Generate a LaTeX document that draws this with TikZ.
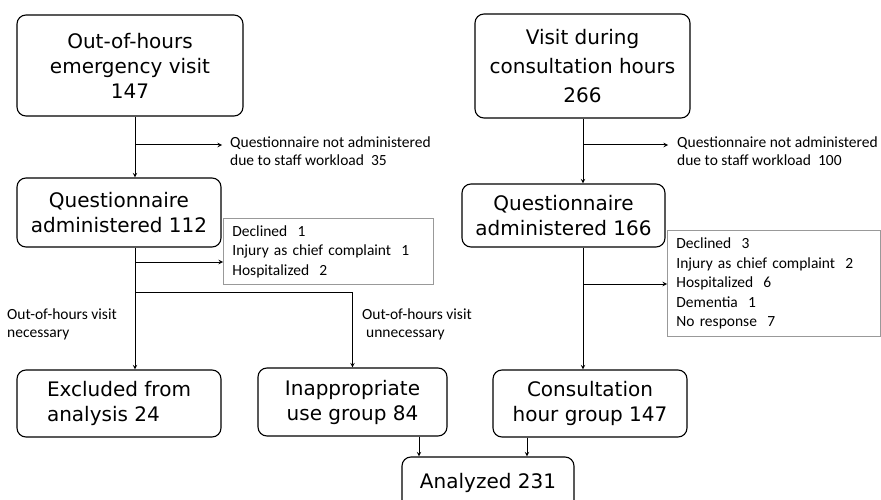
\documentclass[tikz,border=0pt]{standalone}
\usepackage{fontspec}
\usepackage{tikz}
\usetikzlibrary{calc}
\newfontfamily\boxfont{DejaVu Sans}
\newfontfamily\notefont{Carlito}
\tikzset{>=stealth}
\tikzset{
  flowbox/.style={draw,rounded corners=9pt,line width=1.1pt,align=center,inner sep=0pt,
    font=\boxfont\fontsize{20}{25}\selectfont},
  graybox/.style={draw=gray!80,line width=0.8pt,anchor=north west,align=left,
    inner xsep=9pt,inner ysep=0pt,font=\notefont\fontsize{15.5}{19.5}\selectfont},
  note/.style={anchor=north west,align=left,inner sep=0pt,
    font=\notefont\fontsize{15.5}{18}\selectfont},
  flow/.style={line width=1pt,->},
}

\begin{document}
\begin{tikzpicture}[x=1pt,y=-1pt]
          \useasboundingbox (0,0) rectangle (881,500);

          % Boxes
          \node[flowbox,minimum width=226pt,minimum height=101pt] (ooh) at (130,65.5) {Out-of-hours\\emergency visit\\147};
          \node[flowbox,minimum width=204pt,minimum height=69pt] (qleft) at (119,212.5) {Questionnaire\\administered 112};
          \node[flowbox,minimum width=204pt,minimum height=67pt,align=left] (excl) at (119,403.5) {Excluded from\\analysis 24};
          \node[flowbox,minimum width=189pt,minimum height=68pt] (inapp) at (352.5,402) {Inappropriate\\use group 84};
          \node[flowbox,minimum width=215pt,minimum height=104pt,font=\boxfont\fontsize{20}{29}\selectfont] (visit) at (582.5,66) {Visit during\\consultation hours\\266};
          \node[flowbox,minimum width=203pt,minimum height=63pt] (qright) at (563.5,215.5) {Questionnaire\\administered 166};
          \node[flowbox,minimum width=194pt,minimum height=67pt] (consult) at (590,403.5) {Consultation\\hour group 147};
          \node[flowbox,minimum width=172pt,minimum height=52pt] (analyzed) at (488,483) {Analyzed 231};

          % Exclusion lists
          \node[graybox,text width=192pt,minimum height=66pt] (lgray) at (223,218) {Declined~~1\\Injury as chief complaint~~1\\Hospitalized~~2};
          \node[graybox,text width=195pt,minimum height=106pt] (rgray) at (667,230) {Declined~~3\\Injury as chief complaint~~2\\Hospitalized~~6\\Dementia~~1\\No response~~7};

          % Notes
          \node[note] (lnote) at (230,137) {Questionnaire not administered\\due to staff workload~~35};
          \node[note] (rnote) at (677,137) {Questionnaire not administered\\due to staff workload~~100};
          \node[note] (lnec) at (7,309) {Out-of-hours visit\\necessary};
          \node[note] (lunnec) at (362,309) {Out-of-hours visit\\\hspace{4pt}unnecessary};

          % Left column
          \coordinate (ltrunk) at (135,145);
          \coordinate (lexit) at (135,262);
          \coordinate (lfork) at (135,292);
          \draw[flow] (ooh.south -| ltrunk) -- (qleft.north -| ltrunk);
          \draw[flow] (ltrunk) -- ([xshift=-8pt]lnote.west |- ltrunk);
          \draw[flow] (qleft.south -| ltrunk) -- (excl.north -| ltrunk);
          \draw[flow] (lexit) -- (lexit -| lgray.west);
          \draw[flow] (lfork) -| (inapp.north);

          % Right column
          \coordinate (rtrunk) at (583,145);
          \coordinate (rexit) at (583,284);
          \draw[flow] (visit.south -| rtrunk) -- (qright.north -| rtrunk);
          \draw[flow] (rtrunk) -- ([xshift=-9pt]rnote.west |- rtrunk);
          \draw[flow] (qright.south -| rtrunk) -- (consult.north -| rtrunk);
          \draw[flow] (rexit) -- (rexit -| rgray.west);

          % Into analysis
          \draw[flow] ([xshift=66.5pt]inapp.south) -- ([xshift=66.5pt]inapp.south |- analyzed.north);
          \draw[flow] ([xshift=-63pt]consult.south) -- ([xshift=-63pt]consult.south |- analyzed.north);

        \end{tikzpicture}
\end{document}
